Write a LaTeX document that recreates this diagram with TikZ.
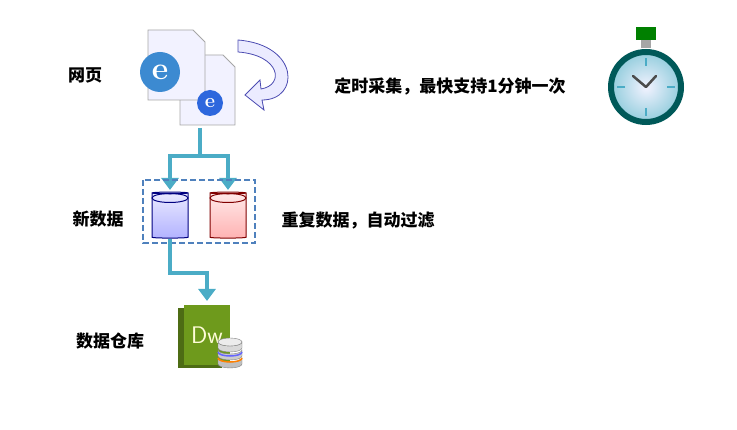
\documentclass[tikz,border=0pt]{standalone}
\usepackage{fontspec}
\newfontfamily\cjk{Noto Sans CJK SC}
\usetikzlibrary{shapes.geometric,arrows.meta}
\definecolor{flow}{HTML}{4BACC6}
\definecolor{dashblue}{HTML}{4F81BD}
\definecolor{dwg}{HTML}{6E9A1C}
\begin{document}
\begin{tikzpicture}[x=1pt,y=-1pt,
  lbl/.style={font=\cjk\bfseries\fontsize{17}{19}\selectfont,inner sep=0pt},
  flowline/.style={draw=flow,line width=3.5pt,-{Triangle[length=12pt,width=17pt]}},
  cyl/.style={cylinder,shape border rotate=90,aspect=0.25,minimum width=36pt,minimum height=46pt,draw,line width=1pt,shading=axis,shading angle=0},
  page/.style={draw=gray!70,fill=blue!5,line width=0.8pt}]
\useasboundingbox (0,0) rectangle (737,430);
% pages
\draw[page] (180,55) -- (223,55) -- (235,67) -- (235,125) -- (180,125) -- cycle;
\draw[page] (148,30) -- (193,30) -- (205,42) -- (205,100) -- (148,100) -- cycle;
\node[circle,fill=flow!80!blue,minimum size=40pt,font=\bfseries\fontsize{32}{32}\selectfont,text=white,inner sep=0pt] (ie) at (160,72) {e};
\node[circle,fill=flow!60!blue,minimum size=26pt,font=\bfseries\fontsize{20}{20}\selectfont,text=white,inner sep=0pt] (ie2) at (210,103) {e};
\node[lbl] (wy) at (85,75) {网页};
% curved arrow
\draw[fill=blue!8,draw=gray!60!blue,line width=0.8pt] (238,40) .. controls (300,45) and (300,100) .. (262,100) -- (264,110) -- (245,95) -- (260,80) -- (261,89) .. controls (285,85) and (280,55) .. (238,52) -- cycle;
\node[lbl] (ds) at (450,86) {定时采集，最快支持1分钟一次};
% stopwatch
\fill[green!50!black] (636,27) rectangle (656,40);
\fill[gray!70] (641,40) rectangle (651,48);
\node[circle,draw=teal!70!black,line width=6pt,inner color=blue!5,outer color=flow!60,minimum size=70pt] (sw) at (646,87) {};
\foreach \a in {0,90,180,270}\draw[flow,line width=2pt] (646,87) ++(\a:21) -- ++(\a:8);
\draw[gray!60!black,line width=2.5pt,line cap=round] (646,87) -- (633,76) (646,87) -- (656,76);
% flow
\coordinate (top) at (200,128);
\coordinate (split) at (200,156);
\draw[draw=flow,line width=3.5pt] (top) -- (split);
\draw[flowline] (split) -| (170,190);
\draw[flowline] (split) -| (228,190);
\draw[dashblue,line width=1.8pt,dash pattern=on 6pt off 3pt] (143,180) rectangle (255,243);
\node[cyl,draw=blue!50!black,top color=blue!8,bottom color=blue!30] (nd) at (170,216) {};
\node[cyl,draw=red!50!black,top color=red!8,bottom color=red!30] (rd) at (228,216) {};
\draw[blue!50!black,line width=1pt] (170,198) ellipse (18 and 4.5);
\draw[red!50!black,line width=1pt] (228,198) ellipse (18 and 4.5);
\node[lbl] (xsj) at (98,219) {新数据};
\node[lbl] (cf) at (358,221) {重复数据，自动过滤};
\draw[flowline] (nd.bottom) |- (207,273) -- (207,301);
% DW
\fill[dwg!70!black] (178,308) rectangle (222,368);
\node[fill=dwg,minimum width=46pt,minimum height=60pt,inner sep=0pt,font=\sffamily\fontsize{24}{24}\selectfont,text=white!85!yellow] (dw) at (207,335) {Dw};
\foreach \y/\c in {364/gray!50,356/gray!40,348/gray!30}
  \draw[fill=\c,draw=gray] (218,\y) -- (218,\y-6) arc[start angle=180,end angle=360,x radius=12,y radius=-4] -- (242,\y) arc[start angle=0,end angle=-180,x radius=12,y radius=-4];
\draw[fill=gray!15,draw=gray] (230,342) ellipse (12 and 4);
\draw[blue!60,line width=1.5pt] (218,352) arc[start angle=180,end angle=360,x radius=12,y radius=-4];
\draw[orange,line width=1.5pt] (218,358) arc[start angle=180,end angle=360,x radius=12,y radius=-4];
\node[lbl] (ck) at (110,341) {数据仓库};
\end{tikzpicture}
\end{document}
